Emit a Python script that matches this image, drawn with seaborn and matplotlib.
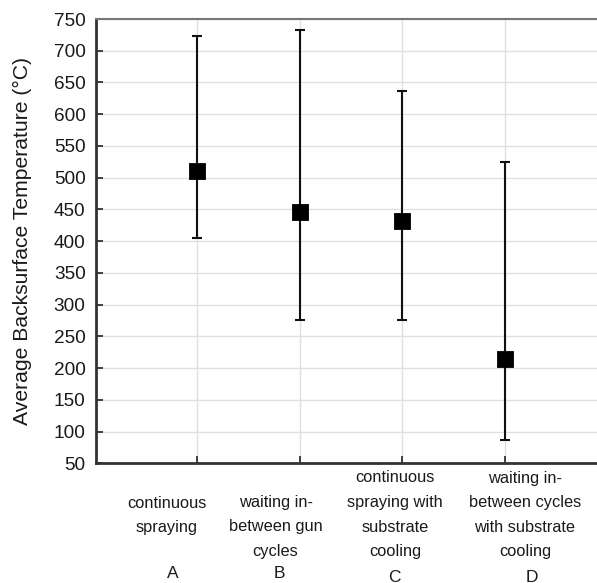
import matplotlib
matplotlib.use("Agg")
import matplotlib.pyplot as plt
import matplotlib.transforms as mtransforms
import seaborn as sns
import pandas as pd

# ---- data ----
letters = ["A", "B", "C", "D"]
descriptions = [
    "continuous\nspraying",
    "waiting in-\nbetween gun\ncycles",
    "continuous\nspraying with\nsubstrate\ncooling",
    "waiting in-\nbetween cycles\nwith substrate\ncooling",
]
means = [510, 446, 432, 215]
lows = [405, 275, 275, 87]
highs = [723, 733, 637, 524]
yticks = list(range(50, 751, 50))

sns.set_theme(style="white")
plt.rcParams["font.family"] = ["Liberation Sans", "DejaVu Sans"]

df = pd.DataFrame({"pos": range(len(letters)), "mean": means})

fig = plt.figure(figsize=(5.97, 5.83), dpi=100)
ax = fig.add_axes([96 / 597, 1 - 463.3 / 583, (597 - 96) / 597, (463.3 - 19) / 583])

# grid
ax.set_axisbelow(True)
ax.grid(True, color="#e0e0e0", linewidth=1.0)

# error bars
yerr = [[m - lo for m, lo in zip(means, lows)], [hi - m for m, hi in zip(means, highs)]]
ax.errorbar(df["pos"], df["mean"], yerr=yerr, fmt="none", ecolor="#111111",
            elinewidth=1.5, capsize=3.8, capthick=1.5, zorder=3)
sns.scatterplot(data=df, x="pos", y="mean", marker="s", s=125, color="black",
                edgecolor="black", linewidth=0.6, ax=ax, zorder=4, legend=False)

ax.set_xlim(-0.979, 3.891)
ax.set_ylim(50, 750)
ax.set_yticks(yticks)
ax.set_yticklabels([str(v) for v in yticks], fontsize=13.7, color="#1a1a1a")
ax.set_xticks(range(len(letters)))
ax.set_xticklabels([""] * len(letters))
ax.tick_params(axis="both", direction="in", length=5, width=1.3, color="#333333",
               bottom=True, left=True, pad=7.5)
ax.set_xlabel("")
ax.set_ylabel("")
fig.text(22 / 597, 1 - 241 / 583, "Average Backsurface Temperature (°C)",
         rotation=90, ha="center", va="center", fontsize=15.2, color="#1a1a1a")

for side in ["left", "bottom"]:
    ax.spines[side].set_color("#333333")
    ax.spines[side].set_linewidth(2.0)
ax.spines["top"].set_color("#777777")
ax.spines["top"].set_linewidth(1.5)
ax.spines["right"].set_visible(False)

# category labels (descriptions + letters) below the axis
trans = mtransforms.blended_transform_factory(ax.transData, fig.transFigure)
desc_dx = [-0.289, -0.233, -0.073, 0.191]
letter_dx = [-0.23, -0.194, -0.078, 0.257]
desc_top = [503, 502, 478, 478]
letter_y = [574, 573, 577, 577]
line_step = 24.6
for i, (d, L) in enumerate(zip(descriptions, letters)):
    for j, line in enumerate(d.split("\n")):
        ax.text(i + desc_dx[i], 1 - (desc_top[i] + j * line_step) / 583, line,
                transform=trans, ha="center", va="center", fontsize=11.8,
                color="#1a1a1a")
    ax.text(i + letter_dx[i], 1 - letter_y[i] / 583, L, transform=trans,
            ha="center", va="center", fontsize=12.5, color="#1a1a1a")

fig.savefig("out.png", dpi=100)
